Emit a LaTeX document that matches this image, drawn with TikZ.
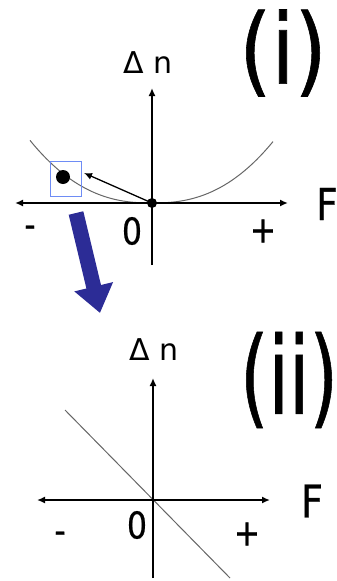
\documentclass[tikz,border=0pt]{standalone}
\usepackage{graphicx}
\usepackage{fontspec}
\setmainfont{DejaVu Sans}
\newfontfamily\nar{DejaVu Sans}[FakeStretch=0.85,FakeBold=0.6]
\usetikzlibrary{arrows.meta}
\definecolor{selblue}{RGB}{110,140,245}
\definecolor{arrowblue}{RGB}{44,44,150}
\begin{document}
\begin{tikzpicture}[x=1pt,y=-1pt,
	ax/.style={line width=2pt,{Latex[length=8pt,width=7pt]}-{Latex[length=8pt,width=7pt]}},
	up/.style={line width=2pt,-{Latex[length=8pt,width=7pt]}},
	crv/.style={black!60,line width=1pt},
	dot/.style={circle,fill=black,inner sep=0pt,minimum size=#1},
	lbl/.style={inner sep=0pt,font=\nar\fontsize{#1}{#1}\selectfont},
	dn/.style={inner sep=0pt,font=\fontsize{30}{30}\selectfont}]
	\useasboundingbox (0,0) rectangle (337,581);
	% (i): curve through the origin
	\coordinate (xl1) at (15,203);
	\coordinate (xr1) at (288,203);
	\coordinate (yb1) at (152,265);
	\coordinate (yt1) at (152,88);
	\draw[crv] plot[domain=-122:121,samples=61] ({152+\x},{203-62*((abs(\x)+0.01)/121.5)^2.4});
	\draw[ax] (xl1) -- (xr1);
	\draw[up] (yb1) -- (yt1);
	\node[dot=10pt] (o1) at (152,203) {};
	\node[dot=14pt] (pt) at (63,177) {};
	\node[draw=selblue,line width=1pt,minimum width=31pt,minimum height=35pt,inner sep=0pt] (sel) at (65.5,178.5) {};
	\coordinate (tip) at (84,173);
	\draw[line width=1.3pt,-{Latex[length=8pt,width=7pt]}] (o1.center) -- (tip);
	\node[dn] (dn1) at (148,63) {Δ n};
	\node[lbl=97.5] (t1) at (283,53) {(i)};
	\node[lbl=44] (f1) at (327,204) {F};
	\node[lbl=37] (m1) at (30,231.5) {-};
	\node[lbl=37] (z1) at (132,231) {0};
	\node[lbl=37] (p1) at (263,231) {+};
	% step down to (ii)
	\coordinate (bs) at (76,213);
	\coordinate (be) at (100,313);
	\draw[arrowblue,line width=15pt,-{Triangle[length=27pt,width=38pt]}] (bs) -- (be);
	% (ii): straight line
	\coordinate (xl2) at (37,500);
	\coordinate (xr2) at (270,500);
	\coordinate (yb2) at (153,578);
	\coordinate (yt2) at (153,378);
	\coordinate (la) at (65,410);
	\coordinate (lb) at (230,578);
	\draw[crv] (la) -- (lb);
	\draw[ax] (xl2) -- (xr2);
	\draw[up] (yb2) -- (yt2);
	\node[dn] (dn2) at (154,350) {Δ n};
	\node[lbl=108] (t2) at (289,380) {\scalebox{0.8}[1]{(ii)}};
	\node[lbl=45] (f2) at (312,501) {F};
	\node[lbl=37] (m2) at (60,537.5) {-};
	\node[lbl=37] (z2) at (137,525) {0};
	\node[lbl=37] (p2) at (247,534) {+};
\end{tikzpicture}
\end{document}
